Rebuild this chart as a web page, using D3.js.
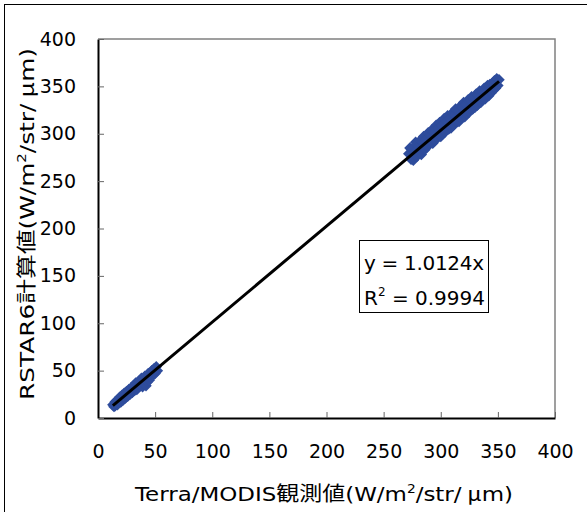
<!DOCTYPE html>
<html>
<head>
<meta charset="utf-8">
<script src="https://cdn.jsdelivr.net/npm/d3@7"></script>
<style>
  body { margin: 0; background: #fff; }
  svg { display: block; }
  text { font-family: "DejaVu Sans", "Noto Sans CJK JP", sans-serif; fill: #000; }
</style>
</head>
<body>
<svg width="587" height="512"></svg>
<script>
const modisLow = [13, 14, 15, 15, 16, 17, 17, 18, 19, 20, 21, 22, 23, 24, 25, 26, 27, 28, 29, 30,
  31, 32, 33, 34, 35, 36, 37, 38, 39, 40, 41, 42, 43, 44, 45, 46, 47, 48, 49, 50, 51, 52];
const rstarLow = [14, 12, 17, 13, 18, 14, 19, 16, 22, 17, 24, 19, 26, 21, 28, 23, 30, 25, 32, 27,
  34, 29, 37, 30, 32, 39, 34, 42, 33, 36, 44, 34, 38, 47, 40, 44, 50, 45, 52, 47, 54, 50];

const modisHigh = [272, 273, 274, 275, 276, 277, 278, 279, 280, 281, 282, 283, 284, 285, 286, 287, 288, 289,
  290, 291, 292, 293, 294, 295, 296, 297, 298, 299, 300, 301, 302, 303, 304, 305, 306, 307, 308, 309,
  310, 311, 312, 313, 314, 315, 316, 317, 318, 319, 320, 321, 322, 323, 324, 325, 326, 327, 328, 329,
  330, 331, 332, 333, 334, 335, 336, 337, 338, 339, 340, 341, 342, 343, 344, 345, 346, 347, 348, 349, 350, 351];
const rstarHigh = [279, 285, 273, 284, 272, 281, 291, 276, 287, 282, 293, 278, 291, 297, 283, 294, 286, 301,
  289, 298, 304, 290, 302, 293, 309, 296, 306, 312, 297, 309, 300, 316, 302, 313, 319, 305, 316, 306,
  322, 309, 320, 326, 312, 324, 313, 329, 316, 328, 333, 318, 331, 321, 336, 323, 335, 339, 326, 338,
  328, 342, 330, 341, 345, 333, 344, 336, 348, 337, 349, 351, 340, 352, 343, 353, 346, 356, 348, 358, 351, 357];

const slope = 1.0124;
const eqLabel = "y = 1.0124x";
const r2Value = "0.9994";
const xTicks = [0, 50, 100, 150, 200, 250, 300, 350, 400];
const yTicks = [0, 50, 100, 150, 200, 250, 300, 350, 400];
const xTitle = "Terra/MODIS観測値(W/m";
const yTitle = "RSTAR6計算値(W/m";
const unitTail = "/str/";

const points = modisLow.map((x, i) => ({x, y: rstarLow[i]}))
  .concat(modisHigh.map((x, i) => ({x, y: rstarHigh[i]})));

const svg = d3.select("svg");
const plot = {left: 98, top: 39, right: 555, bottom: 418};

const x = d3.scaleLinear().domain([0, 400]).range([plot.left, plot.right]);
const y = d3.scaleLinear().domain([0, 400]).range([plot.bottom, plot.top]);

// outer chart frame
svg.append("rect")
  .attr("x", 4.5).attr("y", 4.5).attr("width", 600).attr("height", 520)
  .attr("fill", "none").attr("stroke", "#000").attr("stroke-width", 1);

// top & right edges of plot area
svg.append("path")
  .attr("d", `M${plot.left},${plot.top}H${plot.right}V${plot.bottom}`)
  .attr("fill", "none").attr("stroke", "#808080").attr("stroke-width", 1.5);

// axes (ticks pointing inward)
const xAxis = svg.append("g")
  .attr("transform", `translate(0,${plot.bottom})`)
  .call(d3.axisBottom(x).tickValues(xTicks).tickSizeInner(-6).tickSizeOuter(0).tickPadding(27));
const yAxis = svg.append("g")
  .attr("transform", `translate(${plot.left},0)`)
  .call(d3.axisLeft(y).tickValues(yTicks).tickSizeInner(-6).tickSizeOuter(0).tickPadding(22));

[xAxis, yAxis].forEach(g => {
  g.select(".domain").attr("stroke", "#000").attr("stroke-width", 2);
  g.selectAll(".tick line").attr("stroke", "#666");
  g.selectAll(".tick text")
    .attr("font-family", '"DejaVu Sans", sans-serif')
    .attr("font-size", 19).attr("fill", "#000");
});

// markers
const diamond = d3.symbol(d3.symbolSquare, 66);
svg.append("g").selectAll("path")
  .data(points)
  .join("path")
  .attr("d", diamond)
  .attr("transform", d => `translate(${x(d.x)},${y(d.y)}) rotate(45)`)
  .attr("fill", "#2E4C9C");

// linear trendline through origin
const [xMin, xMax] = d3.extent(points, d => d.x);
svg.append("line")
  .attr("x1", x(xMin)).attr("y1", y(slope * xMin))
  .attr("x2", x(xMax)).attr("y2", y(slope * xMax))
  .attr("stroke", "#000").attr("stroke-width", 3);

// equation box
const box = svg.append("g");
box.append("rect")
  .attr("x", 359.5).attr("y", 240.5).attr("width", 129).attr("height", 72)
  .attr("fill", "#fff").attr("stroke", "#000").attr("stroke-width", 1);
box.append("text").attr("x", 364).attr("y", 270).attr("font-size", 20)
  .attr("textLength", 120).text(eqLabel);
const r2 = box.append("text").attr("x", 364).attr("y", 305).attr("font-size", 20);
r2.append("tspan").text("R");
r2.append("tspan").attr("font-size", 12).attr("dy", -9).text("2");
r2.append("tspan").attr("dy", 9).text(" = " + r2Value);

// axis titles
function unitTitle(sel, head, len) {
  sel.attr("textLength", len).attr("lengthAdjust", "spacingAndGlyphs");
  sel.append("tspan").text(head);
  sel.append("tspan").attr("font-size", 12).attr("dy", -8).text("2");
  sel.append("tspan").attr("dy", 8).text(unitTail);
  sel.append("tspan").attr("font-family", '"Noto Sans CJK JP", sans-serif').attr("dx", 5).text("μ");
  sel.append("tspan").text("m)");
}
const xt = svg.append("text")
  .attr("x", 135).attr("y", 501)
  .attr("font-size", 20);
unitTitle(xt, xTitle, 378);

const yt = svg.append("text")
  .attr("transform", "translate(34,400) rotate(-90)")
  .attr("font-size", 20);
unitTitle(yt, yTitle, 352);
</script>
</body>
</html>
